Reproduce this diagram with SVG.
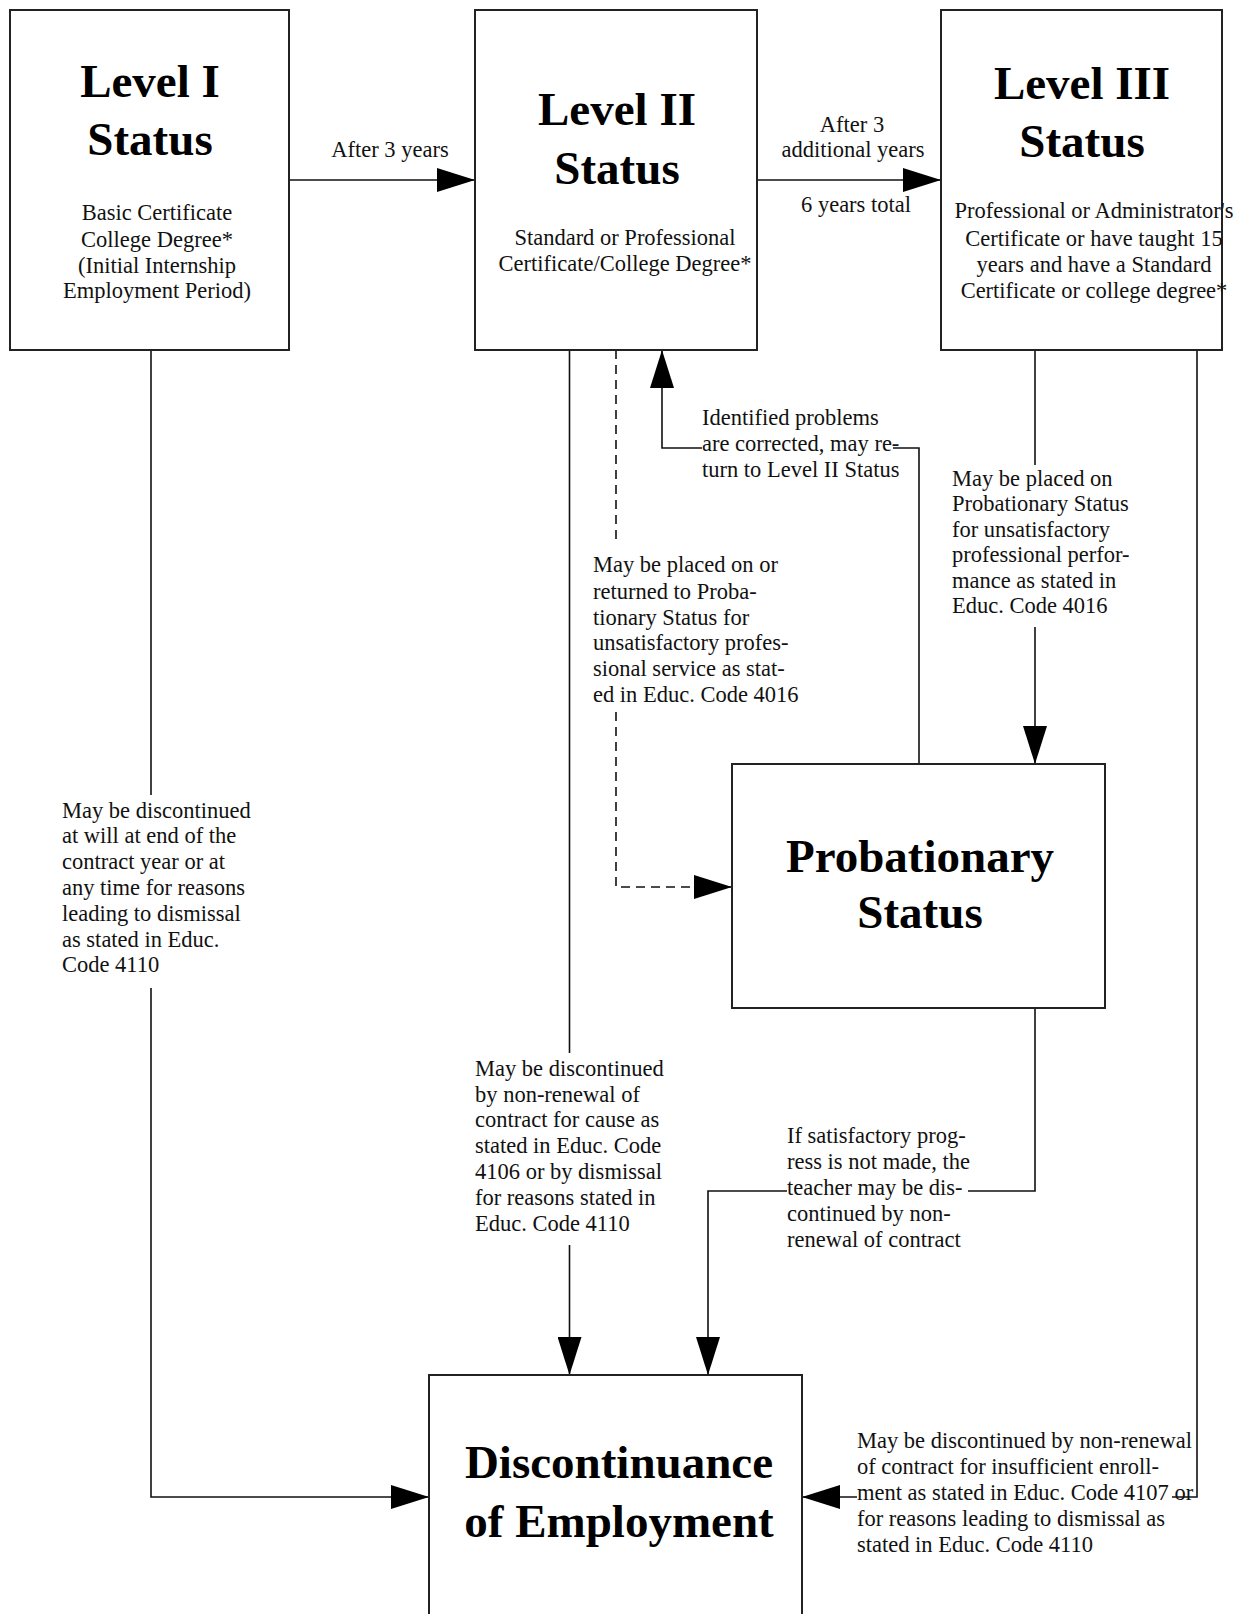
<svg xmlns="http://www.w3.org/2000/svg" width="1251" height="1614" viewBox="0 0 1251 1614">
<style>
  .box { fill: #fff; stroke: #222; stroke-width: 2; }
  .title { font-family: "Liberation Serif", "Times New Roman", serif; font-weight: bold; font-size: 47px; fill: #000; text-anchor: middle; }
  .sub { font-family: "Liberation Serif", "Times New Roman", serif; font-size: 22.5px; fill: #111; text-anchor: middle; }
  .lbl { font-family: "Liberation Serif", "Times New Roman", serif; font-size: 22.5px; fill: #111; }
  .lblc { font-family: "Liberation Serif", "Times New Roman", serif; font-size: 22.5px; fill: #111; text-anchor: middle; }
  .conn { fill: none; stroke: #111; stroke-width: 1.6; }
  .dash { stroke-dasharray: 9 6; }
</style>
<defs>
  <marker id="arr" markerUnits="userSpaceOnUse" markerWidth="38" markerHeight="24" refX="38" refY="12" orient="auto" viewBox="0 0 38 24">
    <path d="M0,0 L38,12 L0,24 Z" fill="#000"/>
  </marker>
</defs>
<rect width="1251" height="1614" fill="#fff"/>

<g id="connectors">
  <line class="conn" x1="289" y1="180" x2="475" y2="180" marker-end="url(#arr)"/>
  <line class="conn" x1="757" y1="180" x2="941" y2="180" marker-end="url(#arr)"/>
  <line class="conn" x1="151" y1="350" x2="151" y2="795"/>
  <path class="conn" d="M151,988 V1497 H429" marker-end="url(#arr)"/>
  <line class="conn" x1="569.5" y1="350" x2="569.5" y2="1053"/>
  <line class="conn" x1="569.5" y1="1245" x2="569.5" y2="1375" marker-end="url(#arr)"/>
  <line class="conn dash" x1="616" y1="350" x2="616" y2="543"/>
  <path class="conn dash" d="M616,712 V887 H732" marker-end="url(#arr)"/>
  <path class="conn" d="M919,764 V448 H893"/>
  <path class="conn" d="M702,448 H662 V350" marker-end="url(#arr)"/>
  <line class="conn" x1="1035" y1="350" x2="1035" y2="465"/>
  <line class="conn" x1="1035" y1="627" x2="1035" y2="764" marker-end="url(#arr)"/>
  <path class="conn" d="M1197,350 V1497 H1172"/>
  <line class="conn" x1="857" y1="1497" x2="802" y2="1497" marker-end="url(#arr)"/>
  <path class="conn" d="M1035,1008 V1191 H968"/>
  <path class="conn" d="M787,1191 H708 V1375" marker-end="url(#arr)"/>
</g>

<g id="level1">
  <rect class="box" x="10" y="10" width="279" height="340"/>
  <text class="title" x="150" y="97">Level I</text>
  <text class="title" x="150" y="155">Status</text>
  <text class="sub" x="157" y="220">Basic Certificate</text>
  <text class="sub" x="157" y="247">College Degree*</text>
  <text class="sub" x="157" y="273"> (Initial Internship</text>
  <text class="sub" x="157" y="298">Employment Period)</text>
</g>

<g id="level2">
  <rect class="box" x="475" y="10" width="282" height="340"/>
  <text class="title" x="617" y="125">Level II</text>
  <text class="title" x="617" y="184">Status</text>
  <text class="sub" x="625" y="245">Standard or Professional</text>
  <text class="sub" x="625" y="271">Certificate/College Degree*</text>
</g>

<g id="level3">
  <rect class="box" x="941" y="10" width="281" height="340"/>
  <text class="title" x="1082" y="99">Level III</text>
  <text class="title" x="1082" y="157">Status</text>
  <text class="sub" x="1094" y="218">Professional or Administrator's</text>
  <text class="sub" x="1094" y="246">Certificate or have taught 15</text>
  <text class="sub" x="1094" y="272">years and have a Standard</text>
  <text class="sub" x="1094" y="298">Certificate or college degree*</text>
</g>

<g id="probationary">
  <rect class="box" x="732" y="764" width="373" height="244"/>
  <text class="title" x="920" y="872">Probationary</text>
  <text class="title" x="920" y="928">Status</text>
</g>

<g id="discontinuance">
  <rect class="box" x="429" y="1375" width="373" height="260"/>
  <text class="title" x="619" y="1478">Discontinuance</text>
  <text class="title" x="619" y="1537">of Employment</text>
</g>

<g id="labels">
  <text class="lblc" x="390" y="157">After 3 years</text>
  <text class="lblc" x="852" y="132">After 3</text>
  <text class="lblc" x="853" y="157">additional years</text>
  <text class="lblc" x="856" y="212">6 years total</text>

  <text class="lbl" x="702" y="425">Identified problems</text>
  <text class="lbl" x="702" y="451">are corrected, may re-</text>
  <text class="lbl" x="702" y="477">turn to Level II Status</text>

  <text class="lbl" x="952" y="486">May be placed on</text>
  <text class="lbl" x="952" y="511">Probationary Status</text>
  <text class="lbl" x="952" y="537">for unsatisfactory</text>
  <text class="lbl" x="952" y="562">professional perfor-</text>
  <text class="lbl" x="952" y="588">mance as stated in</text>
  <text class="lbl" x="952" y="613">Educ. Code 4016</text>

  <text class="lbl" x="593" y="572">May be placed on or</text>
  <text class="lbl" x="593" y="599">returned to Proba-</text>
  <text class="lbl" x="593" y="625">tionary Status for</text>
  <text class="lbl" x="593" y="650">unsatisfactory profes-</text>
  <text class="lbl" x="593" y="676">sional service as stat-</text>
  <text class="lbl" x="593" y="702">ed in Educ. Code 4016</text>

  <text class="lbl" x="62" y="818">May be discontinued</text>
  <text class="lbl" x="62" y="843">at will at end of the</text>
  <text class="lbl" x="62" y="869">contract year or at</text>
  <text class="lbl" x="62" y="895">any time for reasons</text>
  <text class="lbl" x="62" y="921">leading to dismissal</text>
  <text class="lbl" x="62" y="947">as stated in Educ.</text>
  <text class="lbl" x="62" y="972">Code 4110</text>

  <text class="lbl" x="475" y="1076">May be discontinued</text>
  <text class="lbl" x="475" y="1102">by non-renewal of</text>
  <text class="lbl" x="475" y="1127">contract for cause as</text>
  <text class="lbl" x="475" y="1153">stated in Educ. Code</text>
  <text class="lbl" x="475" y="1179">4106 or by dismissal</text>
  <text class="lbl" x="475" y="1205">for reasons stated in</text>
  <text class="lbl" x="475" y="1231">Educ. Code 4110</text>

  <text class="lbl" x="787" y="1143">If satisfactory prog-</text>
  <text class="lbl" x="787" y="1169">ress is not made, the</text>
  <text class="lbl" x="787" y="1195">teacher may be dis-</text>
  <text class="lbl" x="787" y="1221">continued by non-</text>
  <text class="lbl" x="787" y="1247">renewal of contract</text>

  <text class="lbl" x="857" y="1448">May be discontinued by non-renewal</text>
  <text class="lbl" x="857" y="1474">of contract for insufficient enroll-</text>
  <text class="lbl" x="857" y="1500">ment as stated in Educ. Code 4107 or</text>
  <text class="lbl" x="857" y="1526">for reasons leading to dismissal as</text>
  <text class="lbl" x="857" y="1552">stated in Educ. Code 4110</text>
</g>
</svg>
